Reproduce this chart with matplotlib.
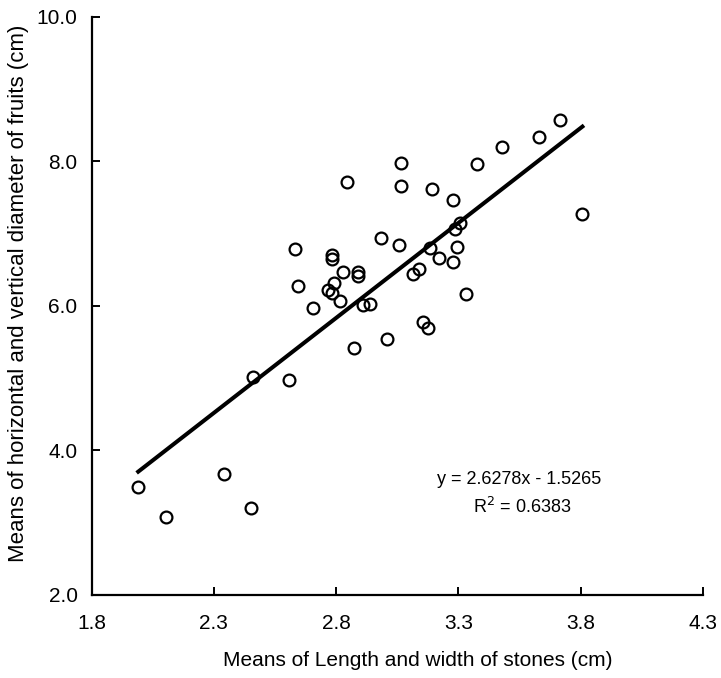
import matplotlib
matplotlib.use("Agg")
import matplotlib.pyplot as plt
import numpy as np

plt.rcParams['font.family'] = ['Liberation Sans', 'DejaVu Sans']

stone_mean = [1.991, 2.103, 2.342, 2.451, 2.461, 2.607,
              3.377, 3.477, 3.631, 3.717, 3.807, 3.277, 3.307, 3.286, 3.293, 3.277, 3.331,
              3.065, 2.843, 3.065, 3.192, 2.633, 2.982, 3.056, 3.184, 2.782, 2.782,
              3.221, 2.827, 2.891, 2.891, 3.138, 3.116, 2.643, 2.791, 2.768, 2.782,
              2.816, 2.707, 2.909, 2.939, 3.154, 3.175, 3.008, 2.872]
fruit_mean = [3.49, 3.08, 3.68, 3.21, 5.01, 4.98,
              7.96, 8.20, 8.33, 8.57, 7.27, 7.46, 7.15, 7.06, 6.81, 6.60, 6.16,
              7.98, 7.71, 7.65, 7.61, 6.78, 6.94, 6.84, 6.80, 6.70, 6.65,
              6.66, 6.47, 6.47, 6.41, 6.51, 6.44, 6.28, 6.32, 6.22, 6.18,
              6.07, 5.97, 6.01, 6.03, 5.77, 5.69, 5.54, 5.41]
slope = 2.6278
intercept = -1.5265
r2 = 0.6383
x_ticks = [1.8, 2.3, 2.8, 3.3, 3.8, 4.3]
y_ticks = [2.0, 4.0, 6.0, 8.0, 10.0]

fig = plt.figure(figsize=(7.21, 6.78), dpi=100)
ax = fig.add_axes([91.5/721, 1-595/678, (703-91.5)/721, (595-16.5)/678])

ax.plot(stone_mean, fruit_mean, linestyle='none', marker='o', markersize=8.5,
        markerfacecolor='none', markeredgecolor='black', markeredgewidth=1.6, zorder=3)

xl = np.array([min(stone_mean), max(stone_mean)])
ax.plot(xl, slope*xl + intercept, color='black', linewidth=2.9, zorder=2)

ax.set_xlim(1.8, 4.3)
ax.set_ylim(2.0, 10.0)
ax.set_xticks(x_ticks)
ax.set_xticklabels([f"{v:.1f}" for v in x_ticks])
ax.set_yticks(y_ticks)
ax.set_yticklabels([f"{v:.1f}" for v in y_ticks])

for s in ['top', 'right']:
    ax.spines[s].set_visible(False)
for s in ['left', 'bottom']:
    ax.spines[s].set_linewidth(1.6)
ax.tick_params(direction='in', length=6, width=1.4, labelsize=15)
ax.tick_params(axis='x', pad=14)
ax.tick_params(axis='y', pad=10)

ax.set_xlabel("Means of Length and width of stones (cm)", fontsize=15, va='center')
ax.set_ylabel("Means of horizontal and vertical diameter of fruits (cm)", fontsize=16, va='center')
ax.xaxis.set_label_coords(0.534, -0.114)
ax.yaxis.set_label_coords(-0.120, 0.522)

ax.text(3.548, 3.60, f"y = {slope}x - {abs(intercept)}", fontsize=13, ha='center', va='center')
ax.text(3.56, 3.22, f"R$^2$ = {r2}", fontsize=13, ha='center', va='center')

fig.savefig("out.png", dpi=100)
